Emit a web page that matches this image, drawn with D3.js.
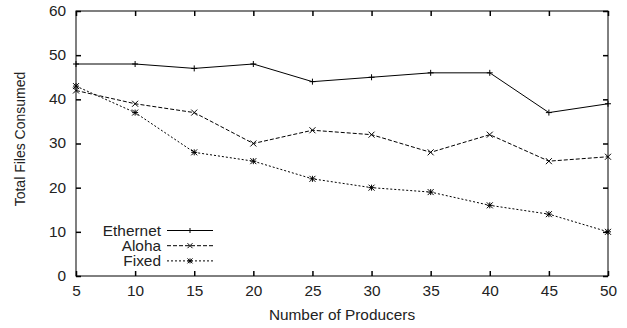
<!DOCTYPE html>
<html>
<head>
<meta charset="utf-8">
<script src="https://cdn.jsdelivr.net/npm/d3@7"></script>
<style>
  body { margin: 0; background: #fff; }
  svg { display: block; font-family: 'Liberation Sans', Arial, sans-serif; }
</style>
</head>
<body>
<div id="chart"></div>
<script>
const producers = [5, 10, 15, 20, 25, 30, 35, 40, 45, 50];
const ethernet = [48, 48, 47, 48, 44, 45, 46, 46, 37, 39];
const aloha = [42, 39, 37, 30, 33, 32, 28, 32, 26, 27];
const fixed = [43, 37, 28, 26, 22, 20, 19, 16, 14, 10];
const yTicks = [0, 10, 20, 30, 40, 50, 60];

const series = [
  { name: 'Ethernet', values: ethernet, dash: null, marker: 'plus' },
  { name: 'Aloha', values: aloha, dash: '4,2', marker: 'cross' },
  { name: 'Fixed', values: fixed, dash: '2,2', marker: 'star' },
];

const width = 627;
const height = 328;
const margin = { top: 11, right: 19, bottom: 52, left: 76 };
const w = width - margin.left - margin.right;
const h = height - margin.top - margin.bottom;
const fontSize = 14;
const stretchX = 1.1;

const svg = d3.select('#chart').append('svg')
  .attr('width', width)
  .attr('height', height);

const g = svg.append('g')
  .attr('transform', `translate(${margin.left},${margin.top})`);

const x = d3.scaleLinear().domain([5, 50]).range([0, w]);
const y = d3.scaleLinear().domain([0, 60]).range([h, 0]);

// the original font is a bit wide, so stretch text horizontally
function stretch(sel) {
  sel.each(function () {
    const t = d3.select(this);
    const tx = +t.attr('x') || 0;
    const ty = +t.attr('y') || 0;
    t.attr('x', 0).attr('y', 0)
      .attr('transform', `translate(${tx},${ty}) scale(${stretchX},1)`);
  });
}

// inward ticks on all four sides
const tick = 5;
g.append('g').attr('transform', `translate(0,${h})`)
  .call(d3.axisBottom(x).tickValues(producers).tickSize(-tick).tickPadding(10))
  .call(a => a.select('.domain').remove());
g.append('g')
  .call(d3.axisTop(x).tickValues(producers).tickSize(-tick).tickFormat(''))
  .call(a => a.select('.domain').remove());
g.append('g')
  .call(d3.axisLeft(y).tickValues(yTicks).tickSize(-tick).tickPadding(10))
  .call(a => a.select('.domain').remove());
g.append('g').attr('transform', `translate(${w},0)`)
  .call(d3.axisRight(y).tickValues(yTicks).tickSize(-tick).tickFormat(''))
  .call(a => a.select('.domain').remove());

g.selectAll('.tick line').attr('stroke', '#000').attr('stroke-width', 1.5);
g.selectAll('.tick text').attr('font-size', fontSize).attr('fill', '#222')
  .attr('font-family', "'Liberation Sans', Arial, sans-serif")
  .call(stretch);

g.append('rect')
  .attr('width', w).attr('height', h)
  .attr('fill', 'none').attr('stroke', '#000').attr('stroke-width', 1);

function marker(sel, type, size) {
  const s = size;
  let d;
  if (type === 'plus') d = `M${-s},0H${s}M0,${-s}V${s}`;
  else if (type === 'cross') d = `M${-s},${-s}L${s},${s}M${-s},${s}L${s},${-s}`;
  else d = `M${-s},0H${s}M0,${-s}V${s}M${-s},${-s}L${s},${s}M${-s},${s}L${s},${-s}`;
  sel.append('path').attr('d', d).attr('stroke', '#000').attr('stroke-width', 1).attr('fill', 'none');
}

const line = d3.line().x((d, i) => x(producers[i])).y(d => y(d));

series.forEach(s => {
  g.append('path')
    .datum(s.values)
    .attr('d', line)
    .attr('fill', 'none')
    .attr('stroke', '#000')
    .attr('stroke-width', 1)
    .attr('stroke-dasharray', s.dash);
  s.values.forEach((v, i) => {
    const m = g.append('g').attr('transform', `translate(${x(producers[i])},${y(v)})`);
    marker(m, s.marker, 3);
  });
});

// legend
const legend = g.append('g').attr('transform', `translate(${161 - margin.left},${230.5 - margin.top})`);
series.forEach((s, i) => {
  const row = legend.append('g').attr('transform', `translate(0,${i * 15.2})`);
  row.append('text')
    .attr('text-anchor', 'end')
    .attr('y', 5)
    .attr('font-size', fontSize)
    .attr('fill', '#222')
    .text(s.name)
    .call(stretch);
  row.append('line')
    .attr('x1', 6).attr('x2', 52)
    .attr('stroke', '#000').attr('stroke-width', 1)
    .attr('stroke-dasharray', s.dash);
  const m = row.append('g').attr('transform', 'translate(29,0)');
  marker(m, s.marker, 2.5);
});

svg.append('text')
  .attr('x', margin.left + w / 2)
  .attr('y', 320)
  .attr('text-anchor', 'middle')
  .attr('font-size', fontSize)
  .attr('fill', '#222')
  .text('Number of Producers')
  .call(stretch);

svg.append('text')
  .attr('transform', `translate(25,139) rotate(-90)`)
  .attr('text-anchor', 'middle')
  .attr('font-size', fontSize)
  .attr('fill', '#222')
  .text('Total Files Consumed');
</script>
</body>
</html>
